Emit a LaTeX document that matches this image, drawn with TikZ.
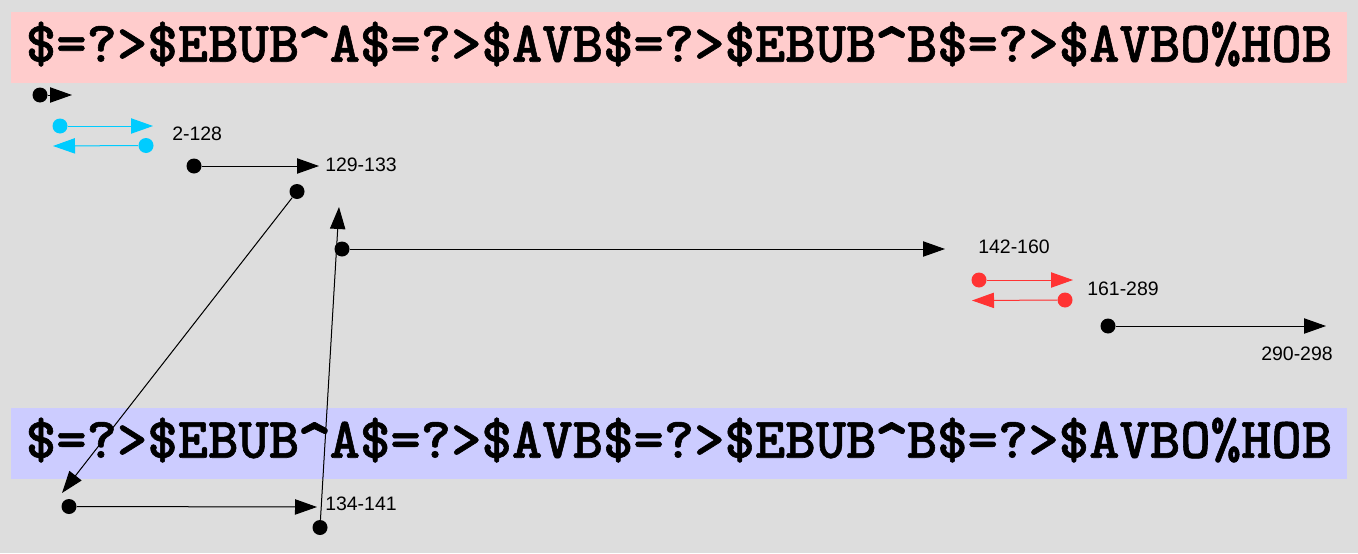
\documentclass[tikz,border=0pt]{standalone}
\usepackage{fontspec}
\usepackage{graphicx}
\setmainfont{Liberation Sans}
\newfontfamily\bannerfont[FakeBold=1]{lmmonolt10-bold.otf}
\newcommand{\hatchar}{\makebox[0.525em]{\raisebox{-0.2em}{\scalebox{1.15}[1.3]{\textasciicircum}}}}
\usetikzlibrary{arrows.meta}
\definecolor{bggray}{HTML}{DDDDDD}
\definecolor{bannerpink}{HTML}{FFCCCC}
\definecolor{bannerblue}{HTML}{CCCCFF}
\definecolor{segcyan}{HTML}{00CCFF}
\definecolor{segred}{HTML}{FF3333}
\tikzset{
  blob/.style={circle,fill=#1,inner sep=0pt,minimum size=11.25pt},
  blob/.default=black,
  arr/.style={-{Triangle[length=16.5pt,width=11.5pt]},line width=0.75pt,draw=#1,fill=#1},
  arr/.default=black,
  lbl/.style={anchor=west,inner sep=0pt,font=\fontsize{14.6}{16}\selectfont},
  banner/.style={rectangle,fill=#1,inner sep=0pt,minimum width=1002pt,minimum height=53.25pt,
    font=\bannerfont\fontsize{43.4}{45}\selectfont},
}
\begin{document}
\begin{tikzpicture}[x=0.75pt,y=-0.75pt]
\fill[bggray] (0,0) rectangle (1358,553);
\useasboundingbox (0,0) rectangle (1358,553);
% banners
\node[banner=bannerpink] (top) at (679,47.5) {\$=?>\$EBUB\hatchar A\$=?>\$AVB\$=?>\$EBUB\hatchar B\$=?>\$AVBO\%HOB};
\node[banner=bannerblue] (bot) at (679,443.5) {\$=?>\$EBUB\hatchar A\$=?>\$AVB\$=?>\$EBUB\hatchar B\$=?>\$AVBO\%HOB};
% segment 1
\node[blob] (s1) at (40,95) {};
\coordinate (t1) at (72,95);
\draw[arr] (s1) -- (t1);
% 2-128
\node[blob=segcyan] (s2a) at (60,126) {};
\coordinate (t2a) at (153,126);
\node[blob=segcyan] (s2b) at (146,145.5) {};
\coordinate (t2b) at (53,146);
\draw[arr=segcyan] (s2a) -- (t2a);
\draw[arr=segcyan] (s2b) -- (t2b);
\node[lbl] (l2) at (172,134) {2-128};
% 129-133
\node[blob] (s3) at (194,166) {};
\coordinate (t3) at (319,166);
\draw[arr] (s3) -- (t3);
\node[lbl] (l3) at (325,165) {129-133};
\node[blob] (s4) at (297,191.5) {};
\coordinate (t4) at (62,493);
\draw[arr] (s4) -- (t4);
% 134-141
\node[blob] (s6) at (69,506.5) {};
\coordinate (t6) at (317,507);
\draw[arr] (s6) -- (t6);
\node[lbl] (l6) at (325,504) {134-141};
\node[blob] (s5) at (320,527.5) {};
\coordinate (t5) at (339,207);
\draw[arr] (s5) -- (t5);
% 142-160
\node[blob] (s7) at (342,249) {};
\coordinate (t7) at (945,249);
\draw[arr] (s7) -- (t7);
\node[lbl] (l7) at (978,247) {142-160};
% 161-289
\node[blob=segred] (s8a) at (979,280) {};
\coordinate (t8a) at (1073,280);
\node[blob=segred] (s8b) at (1065,300) {};
\coordinate (t8b) at (972,300.5);
\draw[arr=segred] (s8a) -- (t8a);
\draw[arr=segred] (s8b) -- (t8b);
\node[lbl] (l8) at (1087,289) {161-289};
% 290-298
\node[blob] (s9) at (1108,326) {};
\coordinate (t9) at (1326,326);
\draw[arr] (s9) -- (t9);
\node[lbl] (l9) at (1261,354) {290-298};
\end{tikzpicture}
\end{document}
